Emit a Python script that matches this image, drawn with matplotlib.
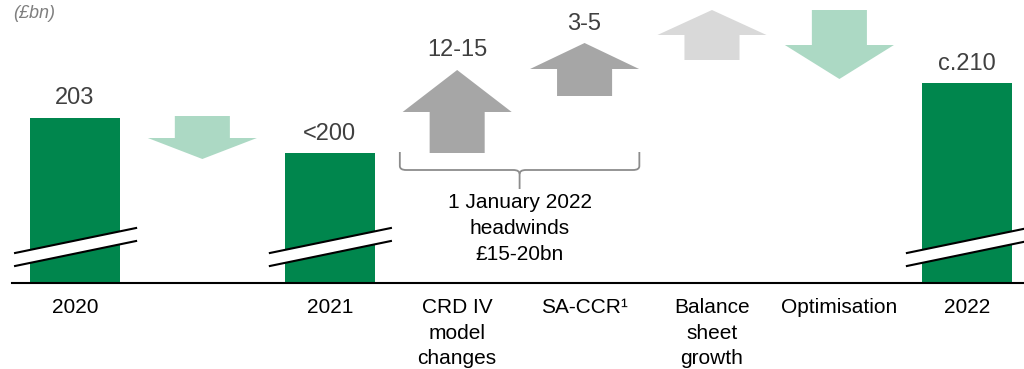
import matplotlib.pyplot as plt
from matplotlib.patches import Polygon
from matplotlib.path import Path
from matplotlib.patches import PathPatch

plt.rcParams['font.family'] = ['Liberation Sans', 'DejaVu Sans']

# RWA walk, £bn (axis is broken, so bars start at 170)
categories = ["2020", "", "2021", "CRD IV\nmodel\nchanges", "SA-CCR\u00b9",
              "Balance\nsheet\ngrowth", "Optimisation", "2022"]
bar_pos = [0, 2, 7]
bar_vals = [203, 196, 210]
bar_labels = ["203", "<200", "c.210"]

# arrows: position, start level, end level, head length, colour
arrow_pos = [1, 3, 4, 5, 6]
arrow_start = [203.4, 196.0, 207.4, 214.6, 224.6]
arrow_end = [194.8, 212.6, 218.0, 224.6, 210.8]
arrow_head = [4.2, 8.4, 5.2, 5.0, 6.8]
arrow_colors = ["#acd9c4", "#a6a6a6", "#a6a6a6", "#d9d9d9", "#acd9c4"]
arrow_labels = ["", "12-15", "3-5", "", ""]

base = 170
green = "#00864d"

fig = plt.figure(figsize=(10.24, 3.69), dpi=100)
ax = fig.add_axes([12 / 1024, 86 / 369, 1012 / 1024, 283 / 369])
ax.set_xlim(-0.494, 7.449)
ax.set_ylim(base, 226.6)
for s in ["top", "right", "left"]:
    ax.spines[s].set_visible(False)
ax.spines["bottom"].set_linewidth(1.5)
ax.set_yticks([])
ax.set_xticks([])

ax.bar(bar_pos, [v - base for v in bar_vals], bottom=base, width=0.706,
       color=green, zorder=2)
for x, v, t in zip(bar_pos, bar_vals, bar_labels):
    ax.text(x, v + 1.7, t, ha="center", va="bottom", fontsize=17, color="#404040")

# axis break marks across each bar
for x in bar_pos:
    x0, x1 = x - 0.47, x + 0.48
    lo = [176.0, 181.0]
    hi = [173.4, 178.4]
    band = Polygon([(x0, lo[0]), (x1, lo[1]), (x1, hi[1]), (x0, hi[0])],
                   closed=True, facecolor="white", edgecolor="none", zorder=3)
    ax.add_patch(band)
    ax.plot([x0, x1], lo, color="black", lw=1.5, zorder=4, clip_on=False)
    ax.plot([x0, x1], hi, color="black", lw=1.5, zorder=4, clip_on=False)

# block arrows
shaft_w = 0.432
head_w = 0.856
for x, y0, y1, hl, c, lab in zip(arrow_pos, arrow_start, arrow_end,
                                 arrow_head, arrow_colors, arrow_labels):
    d = 1 if y1 > y0 else -1
    yb = y1 - d * hl
    pts = [(x - shaft_w / 2, y0), (x + shaft_w / 2, y0), (x + shaft_w / 2, yb),
           (x + head_w / 2, yb), (x, y1), (x - head_w / 2, yb),
           (x - shaft_w / 2, yb)]
    ax.add_patch(Polygon(pts, closed=True, facecolor=c, edgecolor="none",
                         zorder=2, clip_on=False))
    if lab:
        ax.text(x, y1 + 1.7, lab, ha="center", va="bottom", fontsize=17,
                color="#404040")

# brace under the two headwind arrows
bx0, bx1, bxm = 2.55, 4.43, 3.49
ytop, ymid, ybot = 196.2, 192.6, 188.8
r = 0.05
verts = [(bx0, ytop), (bx0, ymid + 0.8), (bx0, ymid), (bx0 + r, ymid),
         (bxm - r, ymid), (bxm, ymid), (bxm, ymid - 0.8), (bxm, ybot)]
codes = [Path.MOVETO, Path.LINETO, Path.CURVE3, Path.CURVE3,
         Path.LINETO, Path.CURVE3, Path.CURVE3, Path.LINETO]
ax.add_patch(PathPatch(Path(verts, codes), facecolor="none",
                       edgecolor="#8c8c8c", lw=1.3))
verts2 = [(bx1, ytop), (bx1, ymid + 0.8), (bx1, ymid), (bx1 - r, ymid),
          (bxm + r, ymid), (bxm, ymid), (bxm, ymid - 0.8)]
codes2 = [Path.MOVETO, Path.LINETO, Path.CURVE3, Path.CURVE3,
          Path.LINETO, Path.CURVE3, Path.CURVE3]
ax.add_patch(PathPatch(Path(verts2, codes2), facecolor="none",
                       edgecolor="#8c8c8c", lw=1.3))
ax.text(bxm, 187.9, "1 January 2022\nheadwinds\n\u00a315-20bn", ha="center",
        va="top", fontsize=15, linespacing=1.45, color="black")

# category labels below the axis
for i, lab in enumerate(categories):
    if lab:
        ax.text(i, base - 3.0, lab, ha="center", va="top", fontsize=15,
                linespacing=1.45, color="black", clip_on=False)

fig.text(13 / 1024, 1 - 14 / 369, "(\u00a3bn)", ha="left", va="center",
         fontsize=13, style="italic", color="#7f7f7f")

fig.savefig("out.png", dpi=100)
